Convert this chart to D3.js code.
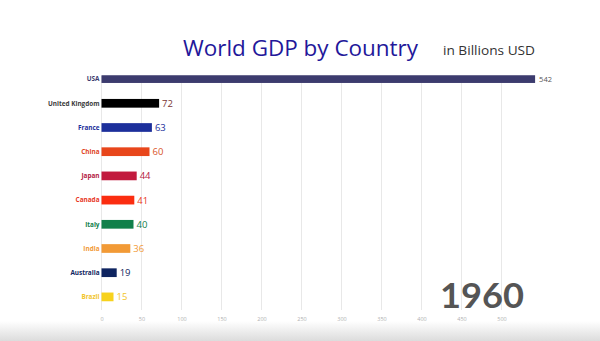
<!DOCTYPE html>
<html>
<head>
<meta charset="utf-8">
<script src="https://cdn.jsdelivr.net/npm/d3@7/dist/d3.min.js"></script>
<style>
  html, body { margin: 0; padding: 0; background: #fff; }
  svg { display: block; }
</style>
</head>
<body>
<svg id="chart" width="600" height="341"></svg>
<script>
// GDP by country, 1960 (billions USD)
const countries = ["USA", "United Kingdom", "France", "China", "Japan", "Canada", "Italy", "India", "Australia", "Brazil"];
const gdp = [542, 72, 63, 60, 44, 41, 40, 36, 19, 15];
const barColors = ["#3c3b6e", "#000000", "#1c2f9b", "#e8461b", "#c21a3e", "#fb2d10", "#11804a", "#f29a36", "#0e2460", "#f7d21c"];
const labelColors = ["#3c3b6e", "#3a3a3a", "#1c2f9b", "#e0451f", "#b3203f", "#e8371f", "#11804a", "#f29a36", "#0e2460", "#f2c52a"];
const valueColors = ["#555555", "#7a3535", "#1c2f9b", "#d9532a", "#b3203f", "#e8371f", "#11804a", "#f29a36", "#0e2460", "#f2c52a"];
const tickValues = [0, 50, 100, 150, 200, 250, 300, 350, 400, 450, 500];
const year = "1960";

const svg = d3.select("#chart");
const W = 600, H = 341;

// soft grey fade along the bottom edge
const defs = svg.append("defs");
const grad = defs.append("linearGradient").attr("id", "fade").attr("x1", 0).attr("y1", 0).attr("x2", 0).attr("y2", 1);
grad.append("stop").attr("offset", "0%").attr("stop-color", "#ffffff");
grad.append("stop").attr("offset", "100%").attr("stop-color", "#dcdcdc");
svg.append("rect").attr("x", 0).attr("y", 321).attr("width", W).attr("height", H - 321).attr("fill", "url(#fade)");

const x = d3.scaleLinear().domain([0, 500]).range([101.5, 501.5]);
const y = d3.scaleBand().domain(countries).range([67, 309]).paddingInner(0.64).paddingOuter(0.32);

// vertical gridlines
svg.append("g").selectAll("line").data(tickValues).join("line")
  .attr("x1", d => x(d)).attr("x2", d => x(d))
  .attr("y1", 76).attr("y2", 310)
  .attr("stroke", "#e8e8e8").attr("stroke-width", 1);

// tick labels via axis
const axis = d3.axisBottom(x).tickValues(tickValues).tickSize(0).tickPadding(0);
const ax = svg.append("g").attr("transform", "translate(0,317.5)").call(axis);
ax.select(".domain").remove();
ax.selectAll("text").attr("font-family", "'Open Sans', sans-serif").attr("font-size", 5.5).attr("fill", "#b0b0b0");

const rows = countries.map((c, i) => ({ c, v: gdp[i], i }));

// bars
svg.append("g").selectAll("rect").data(rows).join("rect")
  .attr("x", x(0))
  .attr("y", d => y(d.c) + (d.i === 0 ? 0.5 : 0))
  .attr("width", d => x(d.v) - x(0))
  .attr("height", d => y.bandwidth() - (d.i === 0 ? 1 : 0))
  .attr("fill", (d) => barColors[d.i]);

// country names
svg.append("g").selectAll("text").data(rows).join("text")
  .attr("x", x(0) - 2)
  .attr("y", d => y(d.c) + y.bandwidth() / 2)
  .attr("dy", "0.35em")
  .attr("text-anchor", "end")
  .attr("font-family", "'Open Sans', sans-serif")
  .attr("font-weight", "bold")
  .attr("font-size", 6.4)
  .attr("fill", d => labelColors[d.i])
  .text(d => d.c);

// values
svg.append("g").selectAll("text").data(rows).join("text")
  .attr("x", d => x(d.v) + (d.i === 0 ? 4 : 3))
  .attr("y", d => y(d.c) + y.bandwidth() / 2)
  .attr("dy", "0.36em")
  .attr("font-family", "'Open Sans', sans-serif")
  .attr("font-size", d => d.i === 0 ? 7.5 : 9.5)
  .attr("fill", d => valueColors[d.i])
  .text(d => d.v);

// title
svg.append("text")
  .attr("x", 183).attr("y", 56)
  .attr("font-family", "'Open Sans', sans-serif")
  .attr("font-size", 22)
  .attr("fill", "#23179a")
  .attr("textLength", 235).attr("lengthAdjust", "spacingAndGlyphs")
  .text("World GDP by Country");

svg.append("text")
  .attr("x", 443).attr("y", 55)
  .attr("font-family", "'Open Sans', sans-serif")
  .attr("font-size", 12)
  .attr("fill", "#333")
  .attr("textLength", 92).attr("lengthAdjust", "spacingAndGlyphs")
  .text("in Billions USD");

// year
svg.append("text")
  .attr("x", 440).attr("y", 308)
  .attr("font-family", "Lato, sans-serif")
  .attr("font-weight", "bold")
  .attr("font-size", 35)
  .attr("fill", "#555")
  .attr("textLength", 84).attr("lengthAdjust", "spacingAndGlyphs")
  .text(year);
</script>
</body>
</html>
